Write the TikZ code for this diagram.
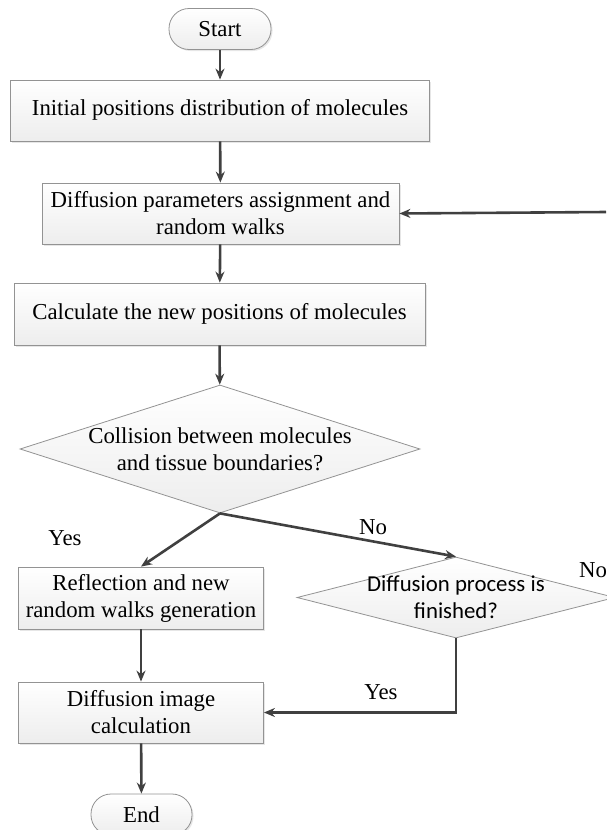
\documentclass[tikz,border=0pt]{standalone}
\usepackage{fontspec}
\setmainfont{Liberation Serif}
\newfontfamily\calibri{Carlito}
\usetikzlibrary{arrows.meta,shapes.geometric,shadows}
\tikzset{
  basetext/.style={font=\fontsize{22.8}{27}\selectfont},
  procbox/.style={basetext, draw=gray!85, line width=0.8pt, top color=white, bottom color=gray!14,
    inner sep=0pt, align=center,
    drop shadow={shadow xshift=1.5pt, shadow yshift=-1.5pt, opacity=0.2}},
  termbox/.style={procbox, rounded corners=20pt},
  decbox/.style={shape=diamond, draw=gray!85, line width=0.8pt, top color=white, bottom color=gray!14,
    inner sep=0pt},
  flow/.style={draw=black!75, line width=2.6pt, -{Stealth[length=11pt,width=9pt]}},
  tag/.style={basetext}
}
\begin{document}
\begin{tikzpicture}[x=1pt,y=-1pt]
  \useasboundingbox (0,0) rectangle (606,830);

  %%%%% BLOCKS %%%%%
  \node[termbox, minimum width=102pt, minimum height=41pt] (start) at (220,29) {Start};
  \node[procbox, minimum width=419pt, minimum height=61pt] (init) at (220,110.5)
    {\raisebox{7pt}{Initial positions distribution of molecules}};
  \node[procbox, minimum width=357pt, minimum height=61pt] (param) at (220.5,213.5)
    {Diffusion parameters assignment and\\random walks};
  \node[procbox, minimum width=411pt, minimum height=62pt] (newpos) at (219.5,314)
    {\raisebox{5pt}{Calculate the new positions of molecules}};
  \node[decbox, minimum width=400pt, minimum height=128pt,
    label={[basetext, align=center]center:Collision between molecules\\and tissue boundaries?}] (collide) at (220,449) {};
  \node[procbox, minimum width=245pt, minimum height=62pt] (reflect) at (141,598)
    {Reflection and new\\random walks generation};
  \node[decbox, minimum width=318pt, minimum height=81pt,
    label={[basetext, font=\calibri\fontsize{22.8}{27}\selectfont, align=center]center:Diffusion process is\\finished?}] (finished) at (456,597.5) {};
  \node[procbox, minimum width=245pt, minimum height=61pt] (image) at (141,712.5)
    {Diffusion image\\calculation};
  \node[termbox, minimum width=101pt, minimum height=41pt] (end) at (141.5,814.5) {End};

  \coordinate (loopin) at (606,212);

  %%%%% FLOW %%%%%
  \draw[flow] (start) -- (init);
  \draw[flow] (init) -- (param);
  \draw[flow] (param) -- (newpos);
  \draw[flow] (newpos) -- (collide);
  \draw[flow] (collide.south) -- (reflect.north);
  \draw[flow] (collide.south) -- (finished.north);
  \draw[flow] (reflect) -- (image);
  \draw[flow] (finished.south) |- (image.east);
  \draw[flow] (image) -- (end);
  \draw[flow] (loopin) -- (param.east);

  %%%%% LABELS %%%%%
  \node[tag] (yesleft) at (65,538) {Yes};
  \node[tag] (nomid) at (373,527) {No};
  \node[tag] (noright) at (593,570) {No};
  \node[tag] (yesdown) at (381,692) {Yes};
\end{tikzpicture}
\end{document}
